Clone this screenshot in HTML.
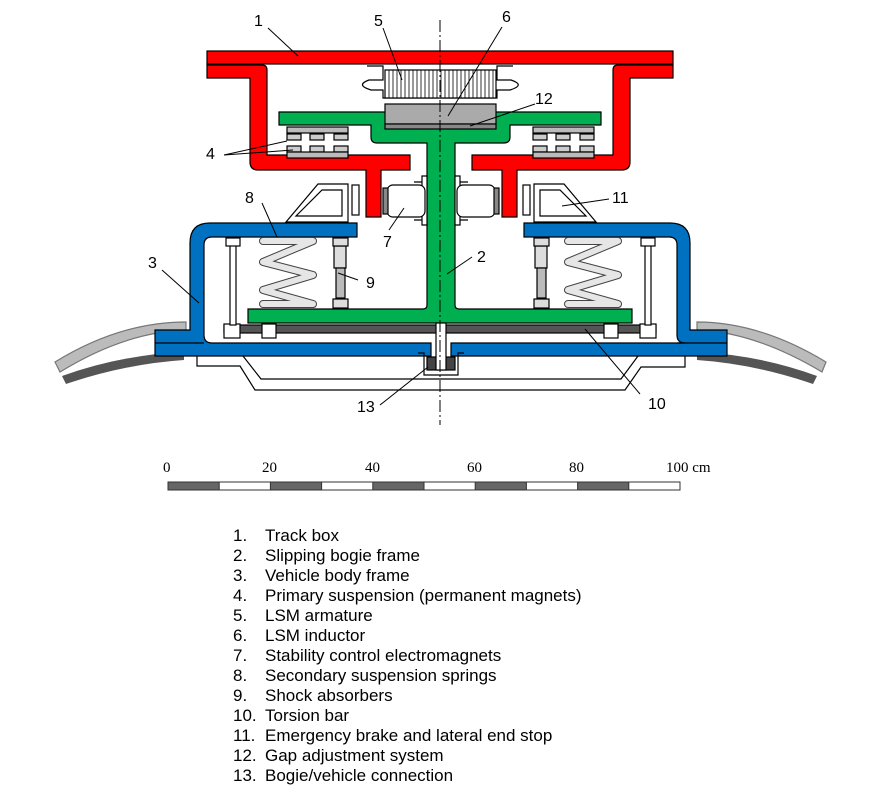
<!DOCTYPE html>
<html><head><meta charset="utf-8"><style>
body{margin:0;background:#fff;width:887px;height:793px;overflow:hidden;font-family:"Liberation Sans",Arial,sans-serif}
svg{position:absolute;left:0;top:0}
.lg{position:absolute;left:233px;font-size:17px;color:#000;line-height:20px}
.lg div span{display:inline-block;width:32px}
</style></head><body>
<svg width="887" height="793" viewBox="0 0 887 793" font-family="Liberation Sans, Arial, sans-serif">
<g stroke="#000" stroke-width="1.2">
<path d="M55,362 Q120,322 186,322 L186,330 Q125,332 60,372 Z" fill="#bbb" stroke="#777"/>
<path d="M62,376 Q120,355 184,352 L184,360 Q125,364 66,384 Z" fill="#555" stroke="none"/>
<path d="M826,362 Q760,322 697,322 L697,330 Q755,332 822,372 Z" fill="#bbb" stroke="#777"/>
<path d="M817,376 Q760,355 697,352 L697,360 Q755,364 813,384 Z" fill="#555" stroke="none"/>
<path d="M197,356 L197,366 L240,366 L255,390 L625,390 L641,367 L685,367 L685,356" fill="none"/>
<path d="M243,356 L261,379 L621,379 L638,356" fill="none"/>
<rect x="207" y="51" width="466" height="13" fill="#f00"/>
<path d="M207,65 L262,65 Q267,65 267,70 L267,155 L410,155 L410,170 L381,170 L381,217 L366,217 L366,170 L258,170 Q250,170 250,162 L250,78 L207,78 Z" fill="#f00"/>
<path d="M673,65 L618,65 Q613,65 613,70 L613,155 L472,155 L472,170 L502,170 L502,217 L517,217 L517,170 L622,170 Q630,170 630,162 L630,78 L673,78 Z" fill="#f00"/>
<path d="M367,66 L383,66 L383,80 L369,80 Q355,85 371,90 L383,90 L383,98 L497,98 L497,90 L510,90 Q526,85 511,80 L497,80 L497,66 L513,66" fill="#fff"/>
<rect x="385" y="70" width="111" height="28" fill="#fff"/>
<path d="M389,70V98M393,70V98M397,70V98M401,70V98M405,70V98M409,70V98M413,70V98M417,70V98M421,70V98M425,70V98M429,70V98M433,70V98M437,70V98M441,70V98M445,70V98M449,70V98M453,70V98M457,70V98M461,70V98M465,70V98M469,70V98M473,70V98M477,70V98M481,70V98M485,70V98M489,70V98M493,70V98" stroke-width="0.8"/>
<path d="M279,112 L601,112 L601,125 L510,125 L510,137 Q510,143 504,143 L455,143 L455,305 Q455,309 459,309 L632,309 L632,323 L248,323 L248,309 L423,309 Q427,309 427,305 L427,143 L377,143 Q371,143 371,137 L371,125 L279,125 Z" fill="#00b050"/>
<rect x="385" y="104" width="111" height="20" fill="#aaa"/>
<rect x="385" y="124" width="111" height="5" fill="#888"/>
<g fill="#ccc"><rect x="287" y="127" width="61" height="6" fill="#bbb"/><rect x="287" y="134" width="14" height="6"/><rect x="310" y="134" width="14" height="6"/><rect x="334" y="134" width="14" height="6"/><rect x="287" y="146" width="14" height="6"/><rect x="310" y="146" width="14" height="6"/><rect x="334" y="146" width="14" height="6"/><rect x="287" y="152" width="61" height="6" fill="#bbb"/>
<rect x="533" y="127" width="61" height="6" fill="#bbb"/><rect x="533" y="134" width="14" height="6"/><rect x="556" y="134" width="14" height="6"/><rect x="580" y="134" width="14" height="6"/><rect x="533" y="146" width="14" height="6"/><rect x="556" y="146" width="14" height="6"/><rect x="580" y="146" width="14" height="6"/><rect x="533" y="152" width="61" height="6" fill="#bbb"/></g>
<path d="M422,176 L427,176 L427,225 L422,225 Z M414,182 L422,182 M414,220 L422,220" fill="#fff"/>
<path d="M455,176 L460,176 L460,225 L455,225 Z M460,182 L468,182 M460,220 L468,220" fill="#fff"/>
<rect x="387" y="185" width="38" height="32" rx="6" fill="#fff"/>
<rect x="457" y="185" width="38" height="32" rx="6" fill="#fff"/>
<rect x="383" y="188" width="5" height="26" fill="#888"/><rect x="494" y="188" width="5" height="26" fill="#888"/>
<path d="M286,222 L318,184 L348,184 L348,222 Z M296,216 L322,190 L342,190 L342,216 Z" fill="#fff" fill-rule="evenodd"/>
<rect x="352" y="185" width="7" height="30" fill="#fff"/>
<path d="M596,222 L564,184 L534,184 L534,222 Z M586,216 L560,190 L540,190 L540,216 Z" fill="#fff" fill-rule="evenodd"/>
<rect x="523" y="185" width="7" height="30" fill="#fff"/>
<path d="M357,223 L210,223 Q190,223 190,243 L190,330 L155,330 L155,356 L431,356 L431,343 L212,343 Q204,343 204,335 L204,245 Q204,237 212,237 L357,237 Z" fill="#0070c0"/>
<path d="M524,223 L670,223 Q690,223 690,243 L690,330 L727,330 L727,356 L451,356 L451,343 L685,343 Q677,343 677,335 L677,245 Q677,237 669,237 L524,237 Z" fill="#0070c0"/>
<line x1="155" y1="343" x2="204" y2="343"/><line x1="677" y1="343" x2="727" y2="343"/>
<rect x="224" y="325" width="432" height="8" fill="#555"/>
<rect x="224" y="324" width="16" height="14" fill="#fff"/><rect x="262" y="324" width="14" height="14" fill="#fff"/>
<rect x="640" y="324" width="16" height="14" fill="#fff"/><rect x="604" y="324" width="14" height="14" fill="#fff"/>
<rect x="230" y="240" width="6" height="85" fill="#fff"/><rect x="226" y="238" width="14" height="8" fill="#fff"/>
<rect x="645" y="240" width="6" height="85" fill="#fff"/><rect x="641" y="238" width="14" height="8" fill="#fff"/>
<rect x="334" y="246" width="12" height="22" fill="#ddd"/><rect x="336" y="268" width="9" height="30" fill="#bbb"/>
<rect x="333" y="238" width="15" height="8" fill="#ddd"/><rect x="333" y="299" width="15" height="9" fill="#ddd"/>
<rect x="535" y="246" width="12" height="22" fill="#ddd"/><rect x="537" y="268" width="9" height="30" fill="#bbb"/>
<rect x="534" y="238" width="15" height="8" fill="#ddd"/><rect x="534" y="299" width="15" height="9" fill="#ddd"/>
<g fill="none" stroke="#444" stroke-width="8" stroke-linejoin="round" stroke-linecap="round"><path d="M263,241 L313,241 L263,262 L313,275 L263,290 L313,304 L263,304"/><path d="M568,241 L618,241 L568,262 L618,275 L568,290 L618,304 L568,304"/></g>
<g fill="none" stroke="#e6e6e6" stroke-width="6" stroke-linejoin="round" stroke-linecap="round"><path d="M263,241 L313,241 L263,262 L313,275 L263,290 L313,304 L263,304"/><path d="M568,241 L618,241 L568,262 L618,275 L568,290 L618,304 L568,304"/></g>
<path d="M418,353 L424,353 L424,375 L458,375 L458,353 L464,353" fill="none"/>
<rect x="427" y="357" width="28" height="13" fill="#444"/>
<rect x="436" y="323" width="10" height="47" fill="#fff"/>
</g>
<line x1="440" y1="20" x2="440" y2="425" stroke="#000" stroke-width="1" stroke-dasharray="12,3,2,3"/>
<g stroke="#000" stroke-width="1">
<line x1="268" y1="28" x2="298" y2="56"/><line x1="383" y1="28" x2="402" y2="80"/>
<line x1="502" y1="27" x2="448" y2="116"/><line x1="535" y1="104" x2="470" y2="126"/>
<line x1="224" y1="155" x2="287" y2="141"/><line x1="224" y1="155" x2="293" y2="150"/>
<line x1="262" y1="203" x2="277" y2="237"/><line x1="162" y1="270" x2="199" y2="303"/>
<line x1="358" y1="280" x2="338" y2="273"/><line x1="389" y1="230" x2="404" y2="208"/>
<line x1="472" y1="257" x2="447" y2="274"/><line x1="609" y1="199" x2="562" y2="206"/>
<line x1="640" y1="394" x2="585" y2="329"/><line x1="380" y1="405" x2="428" y2="367"/>
</g>
<g font-size="16" fill="#000">
<text x="254" y="26">1</text><text x="374" y="26">5</text><text x="502" y="22">6</text><text x="535" y="104">12</text>
<text x="206" y="159">4</text><text x="245" y="203">8</text><text x="612" y="203">11</text><text x="383" y="247">7</text>
<text x="148" y="268">3</text><text x="366" y="288">9</text><text x="477" y="262">2</text>
<text x="648" y="409">10</text><text x="357" y="412">13</text>
</g>
<g font-family="Liberation Serif, serif" font-size="15" fill="#000">
<text x="163" y="472">0</text><text x="262" y="472">20</text><text x="365" y="472">40</text><text x="467" y="472">60</text><text x="569" y="472">80</text><text x="666" y="472">100 cm</text>
</g>
<g stroke="#333" stroke-width="1">
<rect x="168" y="482" width="512" height="8" fill="#fff"/>
<rect x="168" y="482" width="51.2" height="8" fill="#666"/><rect x="270.4" y="482" width="51.2" height="8" fill="#666"/><rect x="372.8" y="482" width="51.2" height="8" fill="#666"/><rect x="475.2" y="482" width="51.2" height="8" fill="#666"/><rect x="577.6" y="482" width="51.2" height="8" fill="#666"/>
</g>
</svg>
<div class="lg" style="top:526px">
<div><span>1.</span>Track box</div>
<div><span>2.</span>Slipping bogie frame</div>
<div><span>3.</span>Vehicle body frame</div>
<div><span>4.</span>Primary suspension (permanent magnets)</div>
<div><span>5.</span>LSM armature</div>
<div><span>6.</span>LSM inductor</div>
<div><span>7.</span>Stability control electromagnets</div>
<div><span>8.</span>Secondary suspension springs</div>
<div><span>9.</span>Shock absorbers</div>
<div><span>10.</span>Torsion bar</div>
<div><span>11.</span>Emergency brake and lateral end stop</div>
<div><span>12.</span>Gap adjustment system</div>
<div><span>13.</span>Bogie/vehicle connection</div>
</div>
</body></html>
